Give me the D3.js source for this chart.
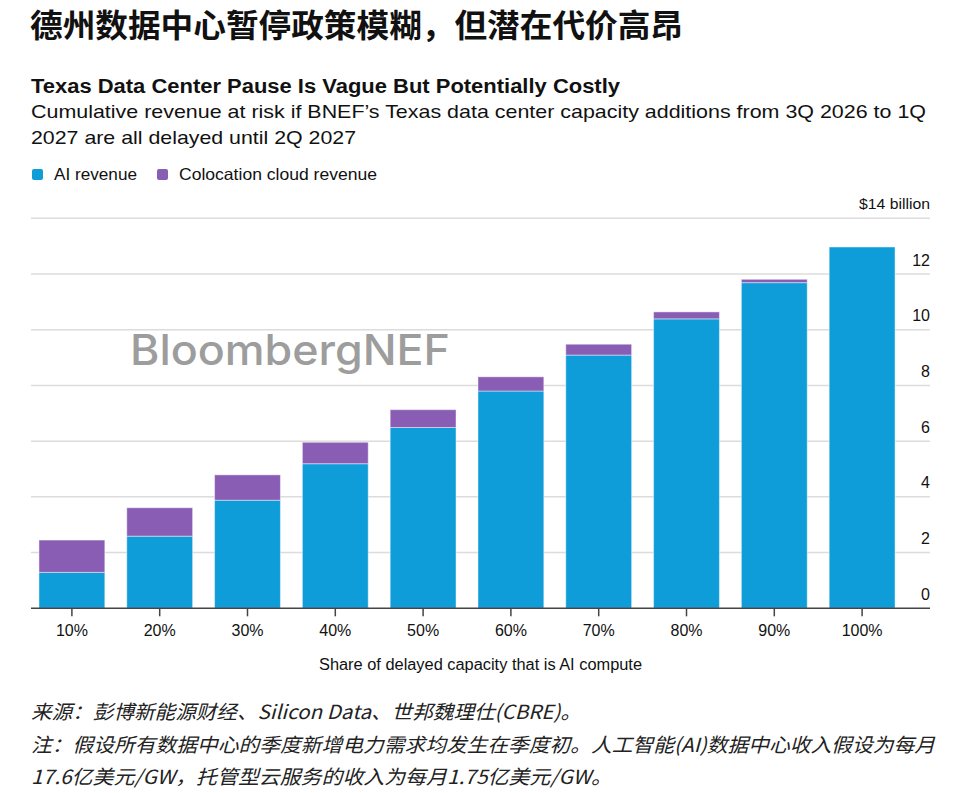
<!DOCTYPE html>
<html><head><meta charset="utf-8">
<script src="https://cdn.jsdelivr.net/npm/d3@7"></script>
<style>
body{margin:0;background:#fff;}
svg{display:block;}
</style></head>
<body>
<svg id="chart" width="962" height="793"></svg>
<script>
const categories = ["10%","20%","30%","40%","50%","60%","70%","80%","90%","100%"];
const aiRevenue = [1.29, 2.59, 3.88, 5.19, 6.49, 7.80, 9.09, 10.39, 11.69, 12.97];
const coloRevenue = [1.16, 1.02, 0.91, 0.77, 0.64, 0.51, 0.39, 0.25, 0.12, 0];
const yTicks = [0, 2, 4, 6, 8, 10, 12, 14];
const seriesNames = ["AI revenue", "Colocation cloud revenue"];
const colors = ["#0f9dd9", "#8a5db4"];

const svg = d3.select("#chart");
const latin = "'Liberation Sans', Arial, sans-serif";
const cjk = "'Noto Sans CJK SC', sans-serif";

// Titles
svg.append("text").attr("x", 30).attr("y", 37)
  .attr("font-family", cjk).attr("font-weight", 700).attr("font-size", 32)
  .attr("fill", "#111").attr("textLength", 653).attr("lengthAdjust", "spacingAndGlyphs")
  .text("德州数据中心暂停政策模糊，但潜在代价高昂");

svg.append("text").attr("x", 31).attr("y", 93)
  .attr("font-family", latin).attr("font-weight", 700).attr("font-size", 20)
  .attr("fill", "#111").attr("textLength", 589).attr("lengthAdjust", "spacingAndGlyphs")
  .text("Texas Data Center Pause Is Vague But Potentially Costly");

svg.append("text").attr("x", 31).attr("y", 118)
  .attr("font-family", latin).attr("font-size", 19).attr("fill", "#111")
  .attr("textLength", 895).attr("lengthAdjust", "spacingAndGlyphs")
  .text("Cumulative revenue at risk if BNEF’s Texas data center capacity additions from 3Q 2026 to 1Q");
svg.append("text").attr("x", 31).attr("y", 144)
  .attr("font-family", latin).attr("font-size", 19).attr("fill", "#111")
  .attr("textLength", 325).attr("lengthAdjust", "spacingAndGlyphs")
  .text("2027 are all delayed until 2Q 2027");

// Legend
const legendX = [32, 157];
const legendTextW = [83, 198];
seriesNames.forEach((n, i) => {
  svg.append("rect").attr("x", legendX[i]).attr("y", 169).attr("width", 11).attr("height", 11)
    .attr("rx", 2).attr("fill", colors[i]);
  svg.append("text").attr("x", legendX[i] + 22).attr("y", 180)
    .attr("font-family", latin).attr("font-size", 16.5).attr("fill", "#111")
    .attr("textLength", legendTextW[i]).attr("lengthAdjust", "spacingAndGlyphs")
    .text(n);
});

// Scales
const x = d3.scaleBand().domain(categories).range([28, 906]).paddingInner(0.25).paddingOuter(0.125);
const y = d3.scaleLinear().domain([0, 14]).range([608.3, 218.3]);
const gridLeft = 31, gridRight = 930;

// Gridlines
svg.append("g").selectAll("line").data(yTicks.filter(d => d > 0)).join("line")
  .attr("x1", gridLeft).attr("x2", gridRight)
  .attr("y1", d => y(d)).attr("y2", d => y(d))
  .attr("stroke", "#dcdcdc").attr("stroke-width", 1.5);

// Watermark
svg.append("text").attr("x", 130).attr("y", 364.5)
  .attr("font-family", "Inter, Lato, sans-serif").attr("font-weight", 500).attr("font-size", 42)
  .attr("fill", "#9d9d9d").attr("textLength", 320).attr("lengthAdjust", "spacingAndGlyphs")
  .text("BloombergNEF");

// Y labels
svg.append("g").selectAll("text").data(yTicks.filter(d => d < 14)).join("text")
  .attr("x", gridRight).attr("y", d => y(d) - 8.5)
  .attr("text-anchor", "end").attr("font-family", latin).attr("font-size", 16).attr("fill", "#111")
  .text(d => d);
svg.append("text").attr("x", gridRight).attr("y", y(14) - 9)
  .attr("text-anchor", "end").attr("font-family", latin).attr("font-size", 15.5).attr("fill", "#111")
  .attr("textLength", 71).attr("lengthAdjust", "spacingAndGlyphs")
  .text("$14 billion");

// Stacked bars
const table = categories.map((c, i) => ({cat: c, ai: aiRevenue[i], colo: coloRevenue[i]}));
const stack = d3.stack().keys(["ai", "colo"])(table);
svg.append("g").selectAll("g").data(stack).join("g")
  .attr("fill", (d, i) => colors[i])
  .selectAll("rect").data(d => d.filter(p => p[1] - p[0] > 0)).join("rect")
  .attr("x", d => x(d.data.cat))
  .attr("width", x.bandwidth())
  .attr("y", d => y(d[1]))
  .attr("height", d => y(d[0]) - y(d[1]))
  .attr("stroke", "rgba(255,255,255,0.45)").attr("stroke-width", 1);

// X axis
const xAxis = svg.append("g").attr("transform", `translate(0,${y(0)})`)
  .call(d3.axisBottom(x).tickSize(8).tickPadding(8).tickSizeOuter(0));
xAxis.select(".domain").remove();
xAxis.selectAll(".tick line").attr("stroke", "#444").attr("stroke-width", 1.5);
xAxis.selectAll(".tick text").attr("font-family", latin).attr("font-size", 16).attr("fill", "#111");
svg.append("line").attr("x1", gridLeft).attr("x2", gridRight).attr("y1", y(0)).attr("y2", y(0))
  .attr("stroke", "#444").attr("stroke-width", 1.5);

svg.append("text").attr("x", 319).attr("y", 670)
  .attr("font-family", latin).attr("font-size", 16).attr("fill", "#111")
  .attr("textLength", 323).attr("lengthAdjust", "spacingAndGlyphs")
  .text("Share of delayed capacity that is AI compute");

// Footer
const footer = [
  {t: "来源：彭博新能源财经、Silicon Data、世邦魏理仕(CBRE)。", y: 719, w: 550},
  {t: "注：假设所有数据中心的季度新增电力需求均发生在季度初。人工智能(AI)数据中心收入假设为每月", y: 752, w: 904},
  {t: "17.6亿美元/GW，托管型云服务的收入为每月1.75亿美元/GW。", y: 784, w: 581}
];
footer.forEach(f => {
  svg.append("text").attr("x", 31).attr("y", f.y)
    .attr("font-family", cjk).attr("font-style", "italic").attr("font-size", 19.5)
    .attr("fill", "#222").attr("textLength", f.w).attr("lengthAdjust", "spacingAndGlyphs")
    .text(f.t);
});
</script>
</body></html>
